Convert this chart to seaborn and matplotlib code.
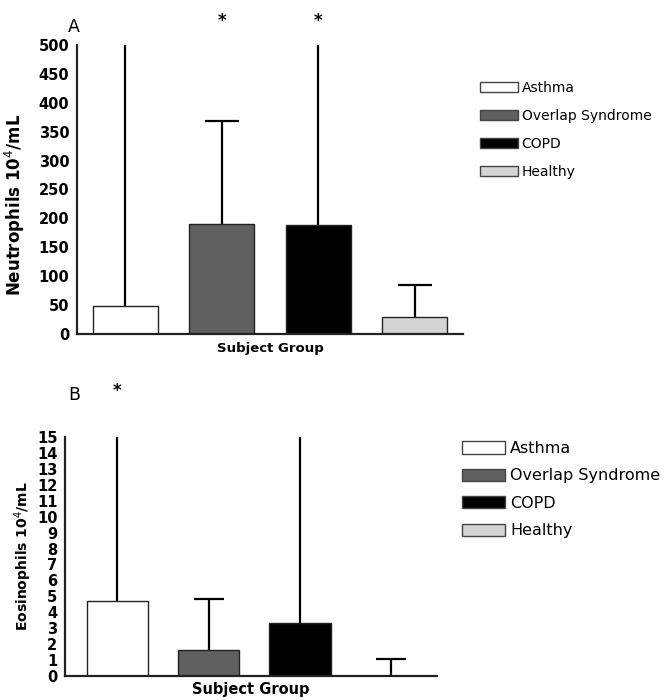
import matplotlib
matplotlib.use("Agg")
import matplotlib.pyplot as plt
import matplotlib.patches as mpatches
import numpy as np
import pandas as pd
import seaborn as sns

# values
groups = ["Asthma", "Overlap Syndrome", "COPD", "Healthy"]
colors = ["#ffffff", "#606060", "#000000", "#d4d4d4"]

neut_mean = [48, 190, 188, 30]
neut_upper = [520, 368, 520, 84]      # bars for Asthma and COPD run off the top

eos_mean = [4.7, 1.65, 3.3, 0.0]
eos_upper = [15.6, 4.85, 15.6, 1.05]  # same for Asthma and COPD

neut_stars = ["", "*", "*", ""]
eos_stars = ["*", "", "", ""]


def draw_panel(ax, means, upper, ylim, yticks, capsize, tick_size):
    df = pd.DataFrame({"group": groups, "value": means})
    sns.barplot(data=df, x="group", y="value", hue="group", order=groups,
                hue_order=groups, palette=dict(zip(groups, colors)),
                width=0.67, edgecolor="#222222", linewidth=1.0,
                legend=False, ax=ax)
    pos = np.arange(len(groups))
    means = np.array(means)
    err = np.array(upper) - means
    _, caps, _ = ax.errorbar(pos, means, yerr=[np.zeros_like(means), err],
                             fmt="none", ecolor="black", elinewidth=1.6,
                             capsize=capsize, capthick=1.6, zorder=3)
    # only the upper cap is drawn
    caps[0].set_visible(False)
    ax.set_ylim(*ylim)
    ax.set_yticks(yticks)
    ax.set_xticks([])
    ax.set_xlabel("Subject Group", fontweight="bold")
    for lab in ax.get_yticklabels():
        lab.set_fontweight("bold")
        lab.set_fontsize(tick_size)
    for s in ["top", "right"]:
        ax.spines[s].set_visible(False)
    for s in ["left", "bottom"]:
        ax.spines[s].set_linewidth(1.6)
        ax.spines[s].set_color("#222222")
    ax.tick_params(axis="y", direction="out", length=4.5, width=1.4,
                   colors="#222222", labelcolor="black", pad=1)


def add_legend(fig, x, y, size, spacing):
    handles = [mpatches.Patch(facecolor=c, edgecolor="#444444", linewidth=1.0,
                              label=g) for g, c in zip(groups, colors)]
    fig.legend(handles=handles, loc="upper left", bbox_to_anchor=(x, y),
               frameon=False, fontsize=size, handlelength=2.7,
               handleheight=0.8, handletextpad=0.3, labelspacing=spacing,
               borderpad=0, borderaxespad=0)


def main():
    sns.set_theme(style="white")
    plt.rcParams["font.family"] = ["DejaVu Sans"]
    plt.rcParams["text.color"] = "black"
    plt.rcParams["axes.labelcolor"] = "black"

    fig = plt.figure(figsize=(6.67, 7.0), dpi=100)
    ax_a = fig.add_axes([0.1154, 0.5229, 0.5787, 0.4128])
    ax_b = fig.add_axes([0.0975, 0.0343, 0.5577, 0.3414])

    # panel A
    draw_panel(ax_a, neut_mean, neut_upper, (0, 500), range(0, 501, 50),
               capsize=12, tick_size=10.5)
    ax_a.set_xlim(-0.5, 3.5)
    ax_a.set_ylabel("Neutrophils 10$^4$/mL", fontweight="bold", fontsize=12)
    ax_a.yaxis.set_label_coords(-0.13, 0.445)
    ax_a.xaxis.label.set_fontsize(9.5)
    ax_a.xaxis.labelpad = 6
    for i, s in enumerate(neut_stars):
        if s:
            ax_a.text(i, 541, s, ha="center", va="center", fontsize=12,
                      fontweight="bold", clip_on=False)
    fig.text(0.102, 0.962, "A", fontsize=12.5, ha="left", va="center")

    # panel B
    draw_panel(ax_b, eos_mean, eos_upper, (0, 15), range(0, 16),
               capsize=11, tick_size=10.5)
    ax_b.set_xlim(-0.57, 3.5)
    ax_b.set_ylabel("Eosinophils 10$^4$/mL", fontweight="bold", fontsize=10,
                    labelpad=2)
    ax_b.xaxis.label.set_fontsize(10.5)
    ax_b.xaxis.labelpad = 4
    for i, s in enumerate(eos_stars):
        if s:
            ax_b.text(i, 17.9, s, ha="center", va="center", fontsize=12,
                      fontweight="bold", clip_on=False)
    fig.text(0.102, 0.436, "B", fontsize=12.5, ha="left", va="center")

    add_legend(fig, 480 / 667, 1 - 81 / 700, 10, 1.0)
    add_legend(fig, 462 / 667, 1 - 441 / 700, 11.5, 0.78)

    fig.savefig("out.png", dpi=100)
    plt.close(fig)


if __name__ == "__main__":
    main()
